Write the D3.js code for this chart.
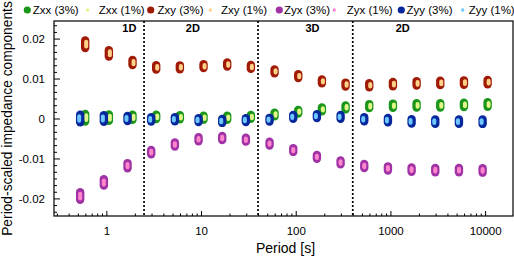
<!DOCTYPE html>
<html>
<head>
<meta charset="utf-8">
<script src="https://cdn.jsdelivr.net/npm/d3@7"></script>
<style>
  html, body { margin: 0; padding: 0; background: #fff; }
  svg { display: block; font-family: "Liberation Sans", Arial, Helvetica, sans-serif; }
</style>
</head>
<body>
<svg id="chart" width="514" height="257"></svg>
<script>
// ---- data ----
const periods = [0.5623, 1, 1.778, 3.162, 5.623, 10, 17.78, 31.62, 56.23, 100, 177.8, 316.2, 562.3, 1000, 1778, 3162, 5623, 10000];
const zxx = [0.0002, 0.0002, 0.0003, 0.0004, 0.0003, 0.0002, 0.0002, 0.0004, 0.0010, 0.0017, 0.0023, 0.0028, 0.0031, 0.0032, 0.0033, 0.0033, 0.0034, 0.0035];
const zxy = [0.0186, 0.0163, 0.0140, 0.0128, 0.0128, 0.0131, 0.0135, 0.0129, 0.0118, 0.0106, 0.0093, 0.0085, 0.0083, 0.0086, 0.0088, 0.0089, 0.0090, 0.0091];
const zyx = [-0.0194, -0.0160, -0.0118, -0.0084, -0.0065, -0.0052, -0.0049, -0.0053, -0.0063, -0.0079, -0.0096, -0.0110, -0.0119, -0.0125, -0.0128, -0.0129, -0.0129, -0.0130];
const zyy = [0.0000, 0.0000, 0.0000, -0.0002, -0.0002, -0.0004, -0.0006, -0.0004, -0.0003, 0.0004, 0.0006, 0.0004, -0.0002, -0.0004, -0.0007, -0.0008, -0.0008, -0.0008];

const seriesNames = ["Zxx", "Zxy", "Zyx", "Zyy"];
const noiseLevels = ["3%", "1%"];
const regionBounds = [2.5, 40, 400];
const regionLabels = ["1D", "2D", "3D", "2D"];
const regionLabelPeriods = [1.75, 8.2, 150, 1350];
const xTickValues = [1, 10, 100, 1000, 10000];
const xTickLabels = ["1", "10", "100", "1000", "10000"];
const yTickValues = [-0.02, -0.01, 0, 0.01, 0.02];
const yTickLabels = ["-0.02", "-0.01", "0", "0.01", "0.02"];
const xLabel = "Period [s]";
const yLabel = "Period-scaled impedance components";

// ---- styles ----
const darkColors  = { Zxx: "#1a961a", Zxy: "#a01a06", Zyx: "#a032a6", Zyy: "#06289c" };
const lightColors = { Zxx: "#e2f68a", Zxy: "#ffd28a", Zyx: "#ff86cc", Zyy: "#6cc8ff" };
const dodge = { Zxx: 2.5, Zxy: 2.5, Zyx: -2.5, Zyy: -2.5 };
const innerShift = { Zxx: 1, Zxy: 1, Zyx: 0, Zyy: -1 };
const values = { Zxx: zxx, Zxy: zxy, Zyx: zyx, Zyy: zyy };

const svg = d3.select("#chart");
const L = 54, R = 513, T = 21, B = 216;

const x = d3.scaleLog().domain([0.28, 19700]).range([L, R]);
const y = d3.scaleLinear().domain([-0.0244, 0.0244]).range([B, T]);

// minor ticks
const xMinor = [];
for (let e = -1; e <= 4; e++) for (let m = 2; m <= 9; m++) {
  const v = m * Math.pow(10, e);
  if (v >= x.domain()[0] && v <= x.domain()[1]) xMinor.push(v);
}
const yMinor = [];
for (let k = -14; k <= 14; k++) {
  const v = k * 0.01 / 6;
  if (Math.abs(v) <= 0.0244 && k % 6 !== 0) yMinor.push(v);
}

// x axis (ticks inward)
const gx = svg.append("g").attr("transform", `translate(0,${B})`);
gx.call(d3.axisBottom(x).tickValues(xMinor).tickSize(-2.5).tickFormat(""));
gx.call(g => g.select(".domain").remove());
const gx2 = svg.append("g").attr("transform", `translate(0,${B})`);
gx2.call(d3.axisBottom(x).tickValues(xTickValues).tickSize(-5).tickPadding(11)
  .tickFormat((d, i) => xTickLabels[i]));
gx2.select(".domain").remove();
gx2.selectAll("text").attr("font-size", "11.5px").attr("fill", "#000")
  .attr("font-family", "Liberation Sans, Arial, sans-serif");
svg.selectAll(".tick line").attr("stroke", "#000");

// y axis (ticks inward)
const gy = svg.append("g").attr("transform", `translate(${L},0)`);
gy.call(d3.axisLeft(y).tickValues(yMinor).tickSize(-3).tickFormat(""));
gy.select(".domain").remove();
const gy2 = svg.append("g").attr("transform", `translate(${L},0)`);
gy2.call(d3.axisLeft(y).tickValues(yTickValues).tickSize(-6).tickPadding(9)
  .tickFormat((d, i) => yTickLabels[i]));
gy2.select(".domain").remove();
gy2.selectAll("text").attr("font-size", "11.5px").attr("fill", "#000")
  .attr("font-family", "Liberation Sans, Arial, sans-serif");
svg.selectAll(".tick line").attr("stroke", "#000");

// region separators
svg.append("g").selectAll("line").data(regionBounds).join("line")
  .attr("x1", d => x(d)).attr("x2", d => x(d))
  .attr("y1", T).attr("y2", B)
  .attr("stroke", "#000").attr("stroke-width", 1.7)
  .attr("stroke-dasharray", "2,2");

svg.append("g").selectAll("text").data(regionLabels).join("text")
  .attr("x", (d, i) => x(regionLabelPeriods[i]))
  .attr("y", 32)
  .attr("text-anchor", "middle")
  .attr("font-size", "11px").attr("font-weight", "bold")
  .text(d => d);

// markers: noise smear derived from impedance magnitude
const mag = periods.map((p, i) => Math.hypot(zxy[i], zyx[i]));
const plot = svg.append("g");
seriesNames.forEach(name => {
  const vals = values[name];
  const pts = periods.map((p, i) => ({ p, v: vals[i], m: mag[i] }));
  // 3% realisations
  plot.append("g").selectAll("rect").data(pts).join("rect")
    .attr("x", d => x(d.p) + dodge[name] - 4.2)
    .attr("width", 8.4)
    .attr("y", d => y(d.v + 0.035 * d.m) - 4.2)
    .attr("height", d => y(d.v - 0.035 * d.m) - y(d.v + 0.035 * d.m) + 8.4)
    .attr("rx", 4.2).attr("ry", 4.2)
    .attr("fill", darkColors[name]);
  // 1% realisations
  plot.append("g").selectAll("rect").data(pts).join("rect")
    .attr("x", d => x(d.p) + dodge[name] + innerShift[name] - 2)
    .attr("width", 4)
    .attr("y", d => y(d.v + 0.022 * d.m) - 2)
    .attr("height", d => y(d.v - 0.022 * d.m) - y(d.v + 0.022 * d.m) + 4)
    .attr("rx", 2).attr("ry", 2)
    .attr("fill", lightColors[name]);
});

// frame
svg.append("rect").attr("x", L).attr("y", T).attr("width", R - L).attr("height", B - T)
  .attr("fill", "none").attr("stroke", "#000").attr("stroke-width", 1.2);

// axis titles
svg.append("text").attr("x", (L + R) / 2 + 2).attr("y", 253)
  .attr("text-anchor", "middle").attr("font-size", "14px").text(xLabel);
svg.append("text").attr("transform", `translate(12,${(T + B) / 2}) rotate(-90)`)
  .attr("text-anchor", "middle").attr("font-size", "13.8px").text(yLabel);

// legend
const legendItems = [];
seriesNames.forEach(n => noiseLevels.forEach(l => legendItems.push({ n, l })));
const legendMarkerX = [27.3, 87.7, 150.7, 210.3, 279.3, 334.3, 401.3, 462.7];
const legendTextX   = [32.7, 98.7, 157.5, 221, 284, 346.7, 406.5, 468.7];
const lg = svg.append("g");
legendItems.forEach((it, i) => {
  const big = it.l === "3%";
  lg.append("circle").attr("cx", legendMarkerX[i]).attr("cy", 10)
    .attr("r", big ? 3.6 : 1.7)
    .attr("fill", big ? darkColors[it.n] : lightColors[it.n]);
  lg.append("text").attr("x", legendTextX[i]).attr("y", 14)
    .attr("font-size", "11.5px").text(`${it.n} (${it.l})`);
});
</script>
</body>
</html>
